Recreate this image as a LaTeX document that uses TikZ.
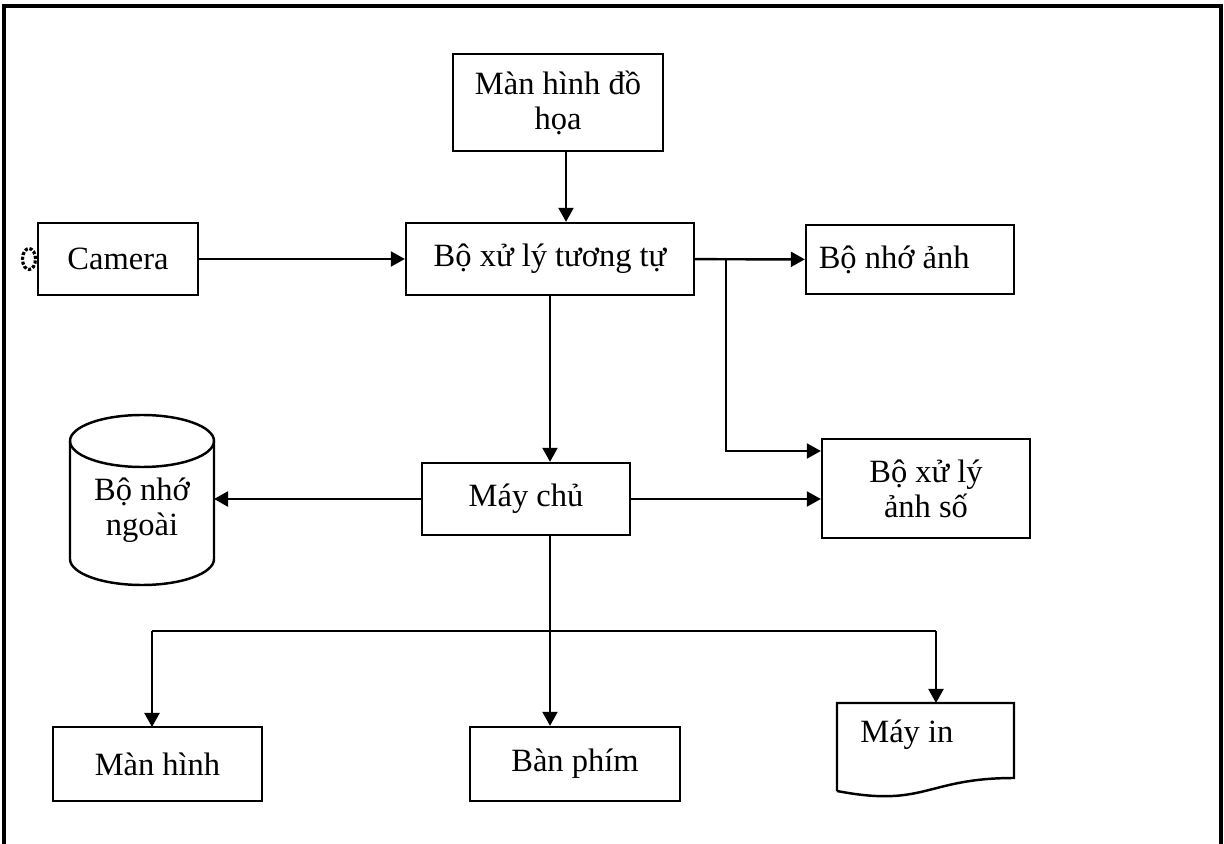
\documentclass[tikz,border=0pt]{standalone}
\usepackage{fontspec}
\setmainfont{Liberation Serif}
\usepackage{tikz}
\usetikzlibrary{arrows.meta,positioning,shapes.geometric}
\newcommand{\pxu}{0.02cm}
\tikzstyle{arrow}=[-{Triangle[length=8pt,width=8.5pt]},line width=1.4pt]
\tikzstyle{wire}=[line width=1.4pt]
\tikzstyle{frame}=[line width=2pt]
\tikzstyle{blockbox}=[rectangle,draw,line width=1.3pt,inner sep=0pt,align=center,
                  font=\fontsize{18.5}{20}\selectfont]
\tikzstyle{plaintext}=[inner sep=0pt,align=center,font=\fontsize{18.5}{20}\selectfont]

\begin{document}
\begin{tikzpicture}[x=0.02cm,y=-0.02cm]
      \useasboundingbox (0,0) rectangle (1224,844);
      \draw[frame] (4,844) -- (4,6) -- (1221,6) -- (1221,844);

      \node[blockbox,minimum width=210*\pxu,minimum height=97*\pxu] (dh) at (558,102.5) {Màn hình đồ\\họa};
      \node[blockbox,minimum width=288*\pxu,minimum height=72*\pxu] (tt) at (550,259) {Bộ xử lý tương tự};
      \node[blockbox,minimum width=160*\pxu,minimum height=72*\pxu] (cam) at (118,259) {Camera};
      \node[ellipse,draw,densely dotted,line width=1.8pt,inner sep=0pt,
            minimum width=13*\pxu,minimum height=21*\pxu] (lens) at (29,259) {};
      \node[blockbox,minimum width=208*\pxu,minimum height=69*\pxu] (nha) at (910,259.5) {Bộ nhớ ảnh\hspace*{18pt}};
      \node[blockbox,minimum width=208*\pxu,minimum height=99*\pxu] (as) at (926,488.5) {Bộ xử lý\\ảnh số};
      \node[blockbox,minimum width=208*\pxu,minimum height=72*\pxu] (mc) at (526,499) {Máy chủ};
      \node[blockbox,minimum width=209*\pxu,minimum height=74*\pxu] (mh) at (157.5,764) {Màn hình};
      \node[blockbox,minimum width=210*\pxu,minimum height=74*\pxu] (bp) at (575,764) {Bàn phím};

      \draw[wire] (70,441) -- (70,559) arc[start angle=180,end angle=360,x radius=72*\pxu,y radius=26*\pxu] -- (214,441);
      \draw[wire] (142,441) ellipse[x radius=72*\pxu,y radius=26*\pxu];
      \node[plaintext] (ext) at (142,510) {Bộ nhớ\\ngoài};
      \coordinate (extin) at (214,499);

      \draw[wire] (837,791) -- (837,703) -- (1014,703) -- (1014,778)
            .. controls (925.5,778) and (925.5,808) .. (837,791);
      \node[plaintext,anchor=west] (mi) at (860,735) {Máy in};
      \coordinate (miin) at (936,703);

      \coordinate (fork) at (726,259);
      \coordinate (bus) at (550,631);

      \draw[arrow] ([xshift=8*\pxu]dh.south) -- ([xshift=8*\pxu]dh.south |- tt.north);
      \draw[arrow] (cam) -- (tt);
      \draw[arrow] (tt) -- (nha);
      \draw[arrow] (fork) -- (fork |- 0,451) -- (as.west |- 0,451);
      \draw[arrow] (tt.south) -- (tt.south |- mc.north);
      \draw[arrow] (mc.east) -- (mc.east -| as.west);
      \draw[arrow] (mc.west) -- (extin);
      \draw[wire] (tt.south |- mc.south) -- (bus);
      \draw[wire] (152,631) -- (miin |- bus);
      \draw[arrow] (152,631) -- (152,727);
      \draw[arrow] (bus) -- (bus |- bp.north);
      \draw[arrow] (miin |- bus) -- (miin);
    \end{tikzpicture}
\end{document}
